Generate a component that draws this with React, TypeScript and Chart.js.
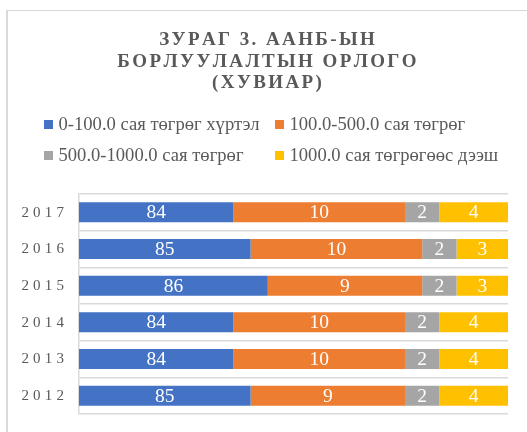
import { useEffect, useRef } from 'react';
import { Chart, registerables } from 'chart.js';

Chart.register(...registerables);

const TITLE_LINES = ['ЗУРАГ 3. ААНБ-ЫН', 'БОРЛУУЛАЛТЫН ОРЛОГО', '(ХУВИАР)'];
const YEARS = ['2012', '2013', '2014', '2015', '2016', '2017'];
const SERIES_NAMES = [
  '0-100.0 сая төгрөг хүртэл',
  '100.0-500.0 сая төгрөг',
  '500.0-1000.0 сая төгрөг',
  '1000.0 сая төгрөгөөс дээш',
];
const SERIES_COLORS = ['#4472C4', '#ED7D31', '#A5A5A5', '#FFC000'];
const UP_TO_100 = [85, 84, 84, 86, 85, 84];
const FROM_100_TO_500 = [9, 10, 10, 9, 10, 10];
const FROM_500_TO_1000 = [2, 2, 2, 2, 2, 2];
const OVER_1000 = [4, 4, 4, 3, 3, 4];
const X_MIN = 75;
const X_MAX = 100;

const SERIF = "'Liberation Serif', 'Times New Roman', serif";
const TEXT_GRAY = '#595959';

function drawSpaced(
  ctx: CanvasRenderingContext2D,
  text: string,
  x: number,
  y: number,
  spacing: number,
  align: 'left' | 'center' | 'right'
) {
  const chars = Array.from(text);
  const widths = chars.map((c) => ctx.measureText(c).width);
  const total = widths.reduce((s, w) => s + w, 0) + spacing * (chars.length - 1);
  let cx = align === 'left' ? x : align === 'center' ? x - total / 2 : x - total;
  ctx.save();
  ctx.textAlign = 'left';
  chars.forEach((c, i) => {
    ctx.fillText(c, cx, y);
    cx += widths[i] + spacing;
  });
  ctx.restore();
}

export default function App() {
  const canvasRef = useRef<HTMLCanvasElement | null>(null);

  useEffect(() => {
    const canvas = canvasRef.current;
    if (!canvas) return;

    const seriesValues = [UP_TO_100, FROM_100_TO_500, FROM_500_TO_1000, OVER_1000];

    const decorPlugin = {
      id: 'decor',
      beforeDraw(chart: any) {
        const ctx = chart.ctx;
        ctx.save();
        ctx.strokeStyle = '#d9d9d9';
        ctx.lineWidth = 1;
        ctx.beginPath();
        ctx.moveTo(6, 10.5);
        ctx.lineTo(chart.width + 5, 10.5);
        ctx.stroke();
        ctx.lineWidth = 2;
        ctx.beginPath();
        ctx.moveTo(7, 10);
        ctx.lineTo(7, chart.height + 5);
        ctx.stroke();
        ctx.restore();
      },
      afterDatasetsDraw(chart: any) {
        const ctx = chart.ctx;
        const area = chart.chartArea;
        ctx.save();
        ctx.fillStyle = '#ffffff';
        ctx.font = `19.5px ${SERIF}`;
        ctx.textAlign = 'center';
        ctx.textBaseline = 'middle';
        chart.data.datasets.forEach((ds: any, d: number) => {
          const meta = chart.getDatasetMeta(d);
          meta.data.forEach((el: any, i: number) => {
            const p = el.getProps(['x', 'y', 'base'], true);
            const a = Math.max(Math.min(p.x, p.base), area.left);
            const b = Math.min(Math.max(p.x, p.base), area.right);
            if (b <= a) return;
            ctx.fillText(String(ds.data[i]), (a + b) / 2, p.y + 1);
          });
        });
        ctx.restore();
      },
      afterDraw(chart: any) {
        const ctx = chart.ctx;
        ctx.save();
        // Category labels (letter-spaced) from the y scale
        const yScale = chart.scales.y;
        ctx.fillStyle = TEXT_GRAY;
        ctx.font = `15px ${SERIF}`;
        ctx.textBaseline = 'middle';
        yScale.ticks.forEach((t: any, i: number) => {
          const label = yScale.getLabelForValue(t.value);
          const py = yScale.getPixelForTick(i);
          drawSpaced(ctx, label, yScale.right - 15, py + 0.5, 4.2, 'right');
        });
        // Title
        ctx.textBaseline = 'alphabetic';
        ctx.font = `bold 19px ${SERIF}`;
        const baselines = [45, 66.7, 88.4];
        TITLE_LINES.forEach((line, k) => {
          drawSpaced(ctx, line, 267, baselines[k], 2.4, 'center');
        });
        // Legend
        ctx.font = `18.6px ${SERIF}`;
        ctx.textAlign = 'left';
        const colX = [44, 275];
        const rowY = [130, 161];
        chart.data.datasets.forEach((ds: any, d: number) => {
          const x = colX[d % 2];
          const y = rowY[Math.floor(d / 2)];
          ctx.fillStyle = ds.backgroundColor;
          ctx.fillRect(x, y - 10, 9, 9);
          ctx.fillStyle = TEXT_GRAY;
          ctx.fillText(ds.label, x + 14.5, y);
        });
        ctx.restore();
      },
    };

    const chart = new Chart(canvas, {
      type: 'bar',
      data: {
        labels: YEARS,
        datasets: SERIES_NAMES.map((name, k) => ({
          label: name,
          data: seriesValues[k],
          backgroundColor: SERIES_COLORS[k],
          borderWidth: 0,
          barPercentage: 0.545,
          categoryPercentage: 1,
        })),
      },
      options: {
        indexAxis: 'y',
        responsive: false,
        animation: false,
        devicePixelRatio: 1,
        layout: { padding: { top: 194, bottom: 18, left: 0, right: 19 } },
        plugins: {
          legend: { display: false },
          title: { display: false },
          tooltip: { enabled: false },
        },
        scales: {
          x: {
            type: 'linear',
            stacked: true,
            min: X_MIN,
            max: X_MAX,
            display: false,
          },
          y: {
            type: 'category',
            stacked: true,
            reverse: true,
            grid: { color: '#d9d9d9', lineWidth: 1.5, drawTicks: false, offset: true },
            border: { color: '#d9d9d9', width: 1.5 },
            ticks: { display: false },
            afterFit(scale: any) {
              scale.width = 79;
            },
          },
        },
      },
      plugins: [decorPlugin],
    });

    return () => chart.destroy();
  }, []);

  return (
    <div style={{ position: 'fixed', left: 0, top: 0, width: 527, height: 432, background: '#ffffff' }}>
      <canvas ref={canvasRef} width={527} height={432} style={{ width: 527, height: 432, display: 'block' }} />
    </div>
  );
}
